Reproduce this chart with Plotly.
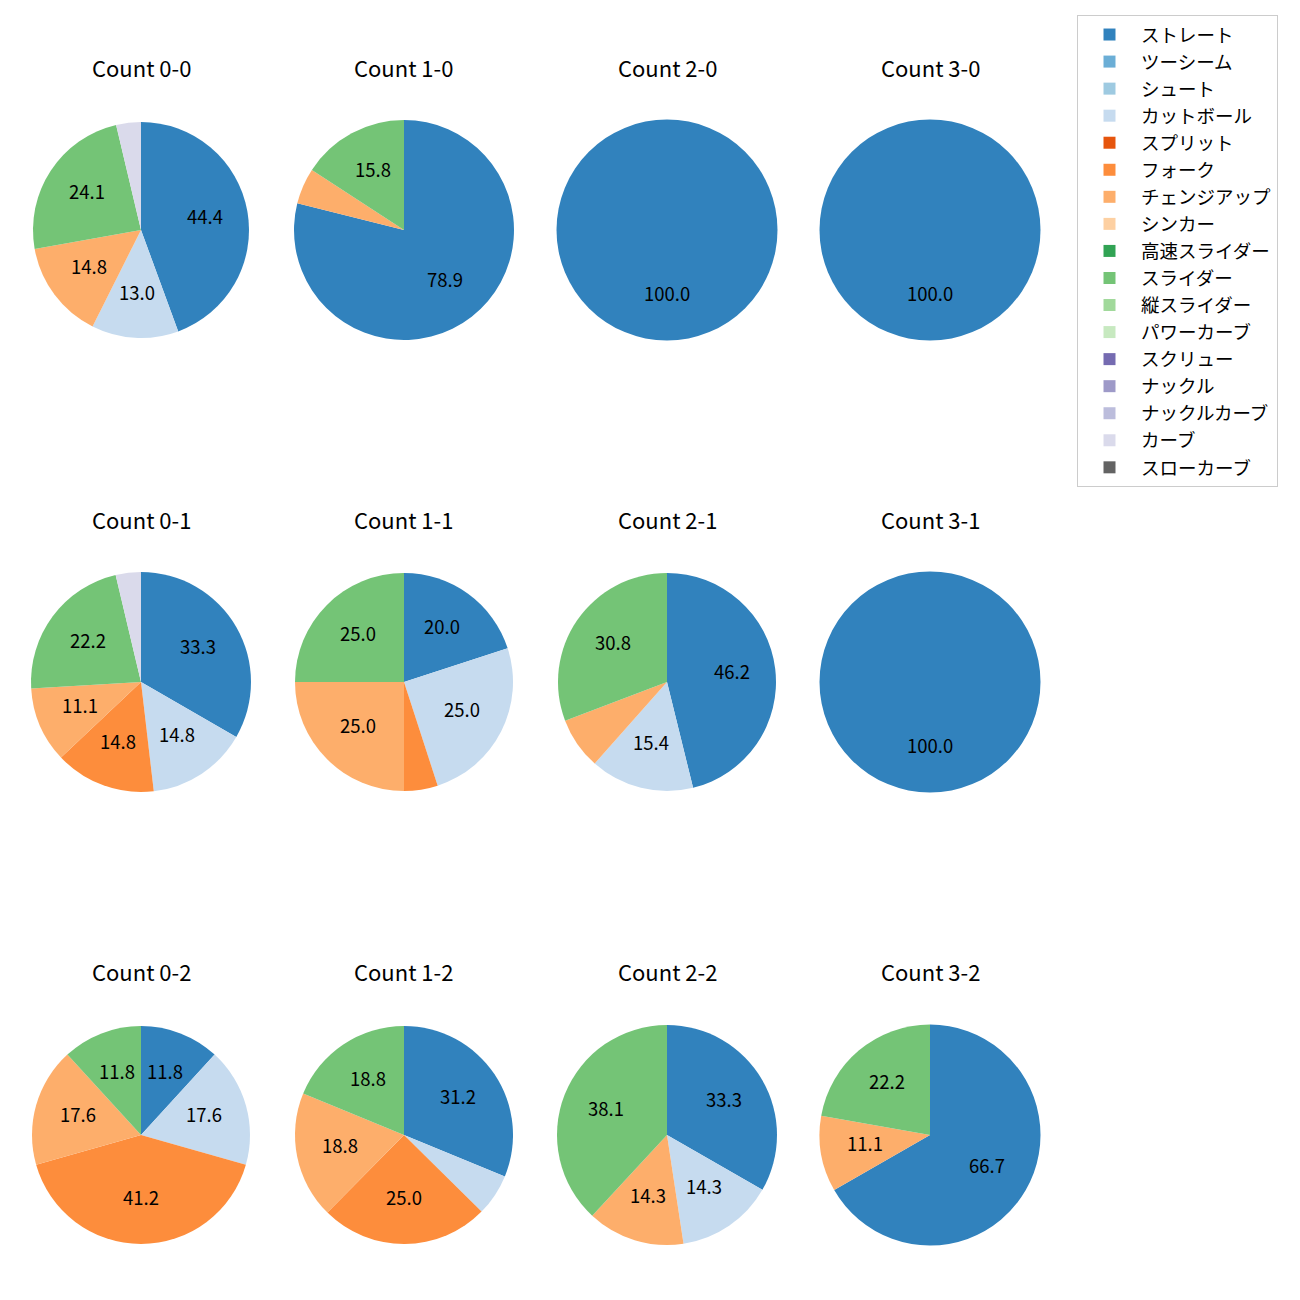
import math
import plotly.graph_objects as go

pitch_types = ["ストレート", "ツーシーム", "シュート", "カットボール", "スプリット", "フォーク",
               "チェンジアップ", "シンカー", "高速スライダー", "スライダー", "縦スライダー",
               "パワーカーブ", "スクリュー", "ナックル", "ナックルカーブ", "カーブ", "スローカーブ"]
colors = ["#3182bd", "#6baed6", "#9ecae1", "#c6dbef", "#e6550d", "#fd8d3c", "#fdae6b", "#fdd0a2",
          "#31a354", "#74c476", "#a1d99b", "#c7e9c0", "#756bb1", "#9e9ac8", "#bcbddc", "#dadaeb",
          "#636363"]

titles = ["Count 0-0", "Count 1-0", "Count 2-0", "Count 3-0",
          "Count 0-1", "Count 1-1", "Count 2-1", "Count 3-1",
          "Count 0-2", "Count 1-2", "Count 2-2", "Count 3-2"]

keys = ["st", "two", "shoot", "cut", "split", "fork", "ch", "sink",
        "fsl", "sl", "vsl", "pc", "scr", "kn", "kc", "cv", "scv"]


def row(**kw):
    return [kw.get(k, 0) for k in keys]


# percentages per pitch type (order of pitch_types)
shares = [
    row(st=44.4, cut=13.0, ch=14.8, sl=24.1, cv=3.7),
    row(st=78.9, ch=5.3, sl=15.8),
    row(st=100.0),
    row(st=100.0),
    row(st=33.3, cut=14.8, fork=14.8, ch=11.1, sl=22.2, cv=3.7),
    row(st=20.0, cut=25.0, fork=5.0, ch=25.0, sl=25.0),
    row(st=46.2, cut=15.4, ch=7.7, sl=30.8),
    row(st=100.0),
    row(st=11.8, cut=17.6, fork=41.2, ch=17.6, sl=11.8),
    row(st=31.2, cut=6.2, fork=25.0, ch=18.8, sl=18.8),
    row(st=33.3, cut=14.3, ch=14.3, sl=38.1),
    row(st=66.7, ch=11.1, sl=22.2),
]

W = H = 1300
col_cx = [141, 404, 667, 930]
row_cy = [230, 682, 1135]
title_y = [69, 521, 973]
radii = [108, 110, 110.5, 110.5, 110, 109, 109, 110.5, 109, 109, 110, 110.5]
FONT = "Noto Sans CJK JP"

fig = go.Figure()
for i, vals in enumerate(shares):
    r_i, c_i = divmod(i, 4)
    cx, cy, rad = col_cx[c_i], row_cy[r_i], radii[i]
    fig.add_trace(go.Pie(
        labels=pitch_types, values=vals, textinfo="none",
        marker=dict(colors=colors, line=dict(width=0)),
        sort=False, direction="clockwise", rotation=0,
        showlegend=(i == 0),
        domain=dict(x=[(cx - rad) / W, (cx + rad) / W],
                    y=[1 - (cy + rad) / H, 1 - (cy - rad) / H]),
    ))
    # percentage labels at 0.6 radius along each slice's bisector
    total = sum(vals)
    cum = 0.0
    for v in vals:
        if v <= 0:
            continue
        mid = (cum + v / 2) / total * 2 * math.pi
        cum += v
        if v < 10:
            continue
        lx = cx + 0.6 * rad * math.sin(mid)
        ly = cy - 0.6 * rad * math.cos(mid)
        fig.add_annotation(text=f"{v:.1f}", x=lx / W, y=1 - ly / H,
                           xref="paper", yref="paper", showarrow=False,
                           xanchor="center", yanchor="middle", yshift=3,
                           font=dict(size=18.5, color="black", family=FONT))
    fig.add_annotation(text=titles[i], x=cx / W, y=1 - title_y[r_i] / H,
                       xref="paper", yref="paper", showarrow=False,
                       xanchor="center", yanchor="middle", yshift=2,
                       font=dict(size=22, color="black", family=FONT))

fig.update_layout(
    width=W, height=H, margin=dict(l=0, r=0, t=0, b=0),
    paper_bgcolor="white", plot_bgcolor="white",
    font=dict(family=FONT, color="black"),
    legend=dict(x=1077 / W, y=1 - 15 / H, xanchor="left", yanchor="top",
                bordercolor="#cccccc", borderwidth=1, bgcolor="white",
                font=dict(size=18.5, family=FONT), traceorder="normal",
                itemwidth=53),
)
fig.write_html("out.html")
